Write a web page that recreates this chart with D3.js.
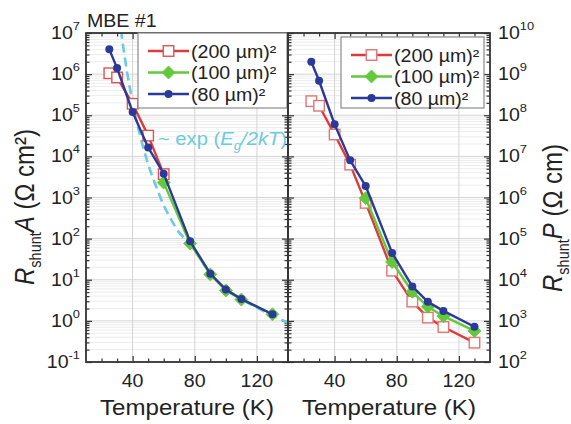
<!DOCTYPE html>
<html>
<head>
<meta charset="utf-8">
<script src="https://cdn.jsdelivr.net/npm/d3@7"></script>
<style>
  html, body { margin: 0; padding: 0; background: #fff; }
  svg { display: block; }
</style>
</head>
<body>
<script>
// ---- data ----
const temperatures = [25, 30, 40, 50, 60, 77, 90, 100, 110, 130];
const temperaturesLow = [25, 30, 40, 50, 60];
const temperaturesMid = [60, 77, 90, 100, 110, 130];

// shunt resistance-area product (Ohm cm^2)
const rA200 = [1.05e6, 8.3e5, 1.9e5, 3.2e4, 3.7e3];
const rA100 = [2.3e3, 76, 13.5, 5.5, 3.3, 1.45];
const rA80  = [4.0e6, 1.4e6, 1.2e5, 1.65e4, 3.8e3, 86, 14, 5.8, 3.4, 1.45];

// shunt resistance-perimeter product (Ohm cm)
const rP200 = [2.2e8, 1.7e8, 3.4e7, 6.3e6, 7.4e5, 1.66e4, 2.95e3, 1.2e3, 710, 295];
const rP100 = [9.6e5, 2.7e4, 5.1e3, 2.2e3, 1.3e3, 570];
const rP80  = [2.0e9, 6.9e8, 6.0e7, 8.0e6, 1.9e6, 4.5e4, 6.9e3, 2.9e3, 1.75e3, 720];

// activation trend ~ exp(Eg/2kT)
const fitT  = [32.5, 35, 40, 45, 50, 55, 60, 65, 70, 77, 90, 100, 110, 120, 130, 140];
const fitRA = [1.2e7, 2.5e6, 2.0e5, 3.0e4, 6.5e3, 1.9e3, 650, 280, 140, 78, 14, 6.0, 3.4, 2.1, 1.35, 0.9];

const xTicks = [40, 80, 120];
const xMinorTicks = [20, 30, 50, 60, 70, 90, 100, 110, 130];
const expLeft = [-1, 0, 1, 2, 3, 4, 5, 6, 7];
const expRight = [2, 3, 4, 5, 6, 7, 8, 9, 10];
const seriesNames = ["(200 \u00b5m)\u00b2", "(100 \u00b5m)\u00b2", "(80 \u00b5m)\u00b2"];

// ---- look ----
const COL = { red: "#e0393a", green: "#62c93a", blue: "#2b3a98", cyan: "#6ccbdc", frame: "#333333" };
const FONT = "'Liberation Sans', Arial, sans-serif";
const SX = 1.12;
const W = 571, H = 424;
const plotTop = 33, plotBottom = 362;

const svg = d3.select("body").append("svg").attr("width", W).attr("height", H);

function addText(parent, x, y, parts, o) {
  o = o || {};
  const t = parent.append("text")
    .attr("transform", `translate(${x},${y}) scale(${SX},1)` + (o.rotate ? ` rotate(${o.rotate})` : ""))
    .attr("font-family", FONT)
    .attr("font-size", o.size || 18)
    .attr("text-anchor", o.anchor || "start")
    .attr("fill", o.fill || "#222");
  parts.forEach(p => {
    const s = t.append("tspan").text(p.t);
    if (p.italic) s.attr("font-style", "italic");
    if (p.size) s.attr("font-size", p.size);
    if (p.dy) s.attr("dy", p.dy);
  });
  return t;
}

function drawMarkers(parent, pts, m) {
  if (m.type === "square") {
    parent.selectAll(null).data(pts).join("rect")
      .attr("x", d => d[0] - m.size / 2).attr("y", d => d[1] - m.size / 2)
      .attr("width", m.size).attr("height", m.size)
      .attr("fill", "#fff").attr("stroke", m.color).attr("stroke-width", 1.4);
  } else if (m.type === "diamond") {
    const h = m.size / 2;
    parent.selectAll(null).data(pts).join("path")
      .attr("transform", d => `translate(${d[0]},${d[1]})`)
      .attr("d", `M0,${-h}L${h},0L0,${h}L${-h},0Z`)
      .attr("fill", m.color).attr("stroke", m.color).attr("stroke-width", 0.8);
  } else {
    parent.selectAll(null).data(pts).join("circle")
      .attr("cx", d => d[0]).attr("cy", d => d[1]).attr("r", m.size / 2)
      .attr("fill", m.color);
  }
}

function panel(cfg) {
  const x = d3.scaleLinear().domain([10, 140]).range([cfg.x0, cfg.x1]);
  const y = d3.scaleLog().domain([Math.pow(10, cfg.exps[0]), Math.pow(10, cfg.exps[cfg.exps.length - 1])]).range([plotBottom, plotTop]);
  const g = svg.append("g");
  const clipId = "clip" + cfg.id;
  svg.append("clipPath").attr("id", clipId).append("rect")
    .attr("x", cfg.x0).attr("y", plotTop).attr("width", cfg.x1 - cfg.x0).attr("height", plotBottom - plotTop);

  const majors = cfg.exps.map(e => Math.pow(10, e));
  const minors = [];
  cfg.exps.slice(0, -1).forEach(e => { for (let k = 2; k <= 9; k++) minors.push(k * Math.pow(10, e)); });

  // grid
  const grid = g.append("g");
  grid.selectAll(".gm").data(minors).join("line")
    .attr("x1", cfg.x0).attr("x2", cfg.x1).attr("y1", d => y(d)).attr("y2", d => y(d))
    .attr("stroke", "#ececec").attr("stroke-width", 1);
  grid.selectAll(".gM").data(majors).join("line")
    .attr("x1", cfg.x0).attr("x2", cfg.x1).attr("y1", d => y(d)).attr("y2", d => y(d))
    .attr("stroke", "#d4d4d4").attr("stroke-width", 1);
  grid.selectAll(".gx").data(xTicks).join("line")
    .attr("x1", d => x(d)).attr("x2", d => x(d)).attr("y1", plotTop).attr("y2", plotBottom)
    .attr("stroke", "#d4d4d4").attr("stroke-width", 1);

  // axes with inward ticks on all four sides
  const ax = g.append("g").attr("color", COL.frame);
  const mk = (a, tr) => ax.append("g").attr("transform", tr).call(a).call(s => s.select(".domain").remove()).selectAll("line").attr("stroke-width", 1.2);
  mk(d3.axisBottom(x).tickValues(xTicks).tickSize(-6).tickFormat(""), `translate(0,${plotBottom})`);
  mk(d3.axisBottom(x).tickValues(xMinorTicks).tickSize(-3.5).tickFormat(""), `translate(0,${plotBottom})`);
  mk(d3.axisTop(x).tickValues(xTicks).tickSize(-6).tickFormat(""), `translate(0,${plotTop})`);
  mk(d3.axisTop(x).tickValues(xMinorTicks).tickSize(-3.5).tickFormat(""), `translate(0,${plotTop})`);
  mk(d3.axisLeft(y).tickValues(majors).tickSize(-6).tickFormat(""), `translate(${cfg.x0},0)`);
  mk(d3.axisLeft(y).tickValues(minors).tickSize(-3.5).tickFormat(""), `translate(${cfg.x0},0)`);
  mk(d3.axisRight(y).tickValues(majors).tickSize(-6).tickFormat(""), `translate(${cfg.x1},0)`);
  mk(d3.axisRight(y).tickValues(minors).tickSize(-3.5).tickFormat(""), `translate(${cfg.x1},0)`);

  // plotted data
  const plot = g.append("g").attr("clip-path", `url(#${clipId})`);
  const line = d3.line().x(d => x(d[0])).y(d => y(d[1]));
  if (cfg.fit) {
    plot.append("path").datum(d3.zip(fitT, fitRA))
      .attr("d", d3.line().x(d => x(d[0])).y(d => y(d[1])).curve(d3.curveMonotoneX))
      .attr("fill", "none").attr("stroke", COL.cyan).attr("stroke-width", 2.6)
      .attr("stroke-dasharray", "9,5");
  }
  cfg.series.forEach(s => {
    const pts = d3.zip(s.t, s.v);
    plot.append("path").datum(pts).attr("d", line)
      .attr("fill", "none").attr("stroke", s.color).attr("stroke-width", 2.4).attr("stroke-linejoin", "round");
    drawMarkers(plot, pts.map(d => [x(d[0]), y(d[1])]), s.marker);
  });

  // frame
  g.append("rect").attr("x", cfg.x0).attr("y", plotTop).attr("width", cfg.x1 - cfg.x0).attr("height", plotBottom - plotTop)
    .attr("fill", "none").attr("stroke", COL.frame).attr("stroke-width", 1.8);

  // tick labels
  xTicks.forEach(t => addText(svg, x(t), 387, [{ t: String(t) }], { size: 17.5, anchor: "middle" }));
  cfg.exps.forEach(e => {
    const yy = y(Math.pow(10, e)) + 6;
    if (cfg.labelSide === "left") {
      addText(svg, cfg.x0 - 6, yy, [{ t: "10" }, { t: String(e), size: 11.5, dy: -9 }], { size: 17.5, anchor: "end" });
    } else {
      addText(svg, cfg.x1 + 8, yy, [{ t: "10" }, { t: String(e), size: 11.5, dy: -9 }], { size: 17.5, anchor: "start" });
    }
  });
  addText(svg, (cfg.x0 + cfg.x1) / 2, 415, [{ t: "Temperature (K)" }], { size: 21.5, anchor: "middle" });

  // legend
  const lg = svg.append("g");
  lg.append("rect").attr("x", cfg.legend.x).attr("y", cfg.legend.y).attr("width", cfg.legend.w).attr("height", cfg.legend.h)
    .attr("fill", "#fff").attr("stroke", "#8a8a8a").attr("stroke-width", 1.2);
  cfg.series.forEach((s, i) => {
    const ly = cfg.legend.y + 18 + i * 21.5;
    const lx = cfg.legend.x + 10;
    lg.append("line").attr("x1", lx).attr("x2", lx + 41).attr("y1", ly).attr("y2", ly)
      .attr("stroke", s.color).attr("stroke-width", 2.4);
    drawMarkers(lg, [[lx + 20.5, ly]], s.marker);
    addText(lg, lx + 43, ly + 6.5, [{ t: seriesNames[i] }], { size: 17.5 });
  });
}

const sqLeft = { type: "square", size: 10.5, color: "#e05252" };
const sqRight = { type: "square", size: 10.5, color: "#e27474" };
const dia = { type: "diamond", size: 13, color: COL.green };
const dot = { type: "circle", size: 8, color: COL.blue };

panel({
  id: "L", x0: 86, x1: 288, exps: expLeft, labelSide: "left", fit: true,
  legend: { x: 138, y: 33, w: 149, h: 75 },
  series: [
    { t: temperaturesLow, v: rA200, color: COL.red, marker: sqLeft },
    { t: temperaturesMid, v: rA100, color: COL.green, marker: dia },
    { t: temperatures, v: rA80, color: COL.blue, marker: dot }
  ]
});

panel({
  id: "R", x0: 288, x1: 490, exps: expRight, labelSide: "right", fit: false,
  legend: { x: 341, y: 37, w: 143, h: 71 },
  series: [
    { t: temperatures, v: rP200, color: COL.red, marker: sqRight },
    { t: temperaturesMid, v: rP100, color: COL.green, marker: dia },
    { t: temperatures, v: rP80, color: COL.blue, marker: dot }
  ]
});

// titles and annotations
addText(svg, 87, 27, [{ t: "MBE #1" }], { size: 17.5 });
addText(svg, 158, 145, [
  { t: "~ exp (" }, { t: "E", italic: true }, { t: "g", size: 12, dy: 5, italic: true },
  { t: "/2", dy: -5, italic: true }, { t: "kT", italic: true }, { t: ")" }
], { size: 18, fill: COL.cyan });

addText(svg, 34, 207, [
  { t: "R", italic: true }, { t: "shunt", size: 14.5, dy: 6 }, { t: "A", italic: true, dy: -6 }, { t: " (\u03a9 cm\u00b2)" }
], { size: 24, anchor: "middle", rotate: -90 });

addText(svg, 562, 218, [
  { t: "R", italic: true }, { t: "shunt", size: 14.5, dy: 6 }, { t: "P", italic: true, dy: -6 }, { t: " (\u03a9 cm)" }
], { size: 24, anchor: "middle", rotate: -90 });
</script>
</body>
</html>
